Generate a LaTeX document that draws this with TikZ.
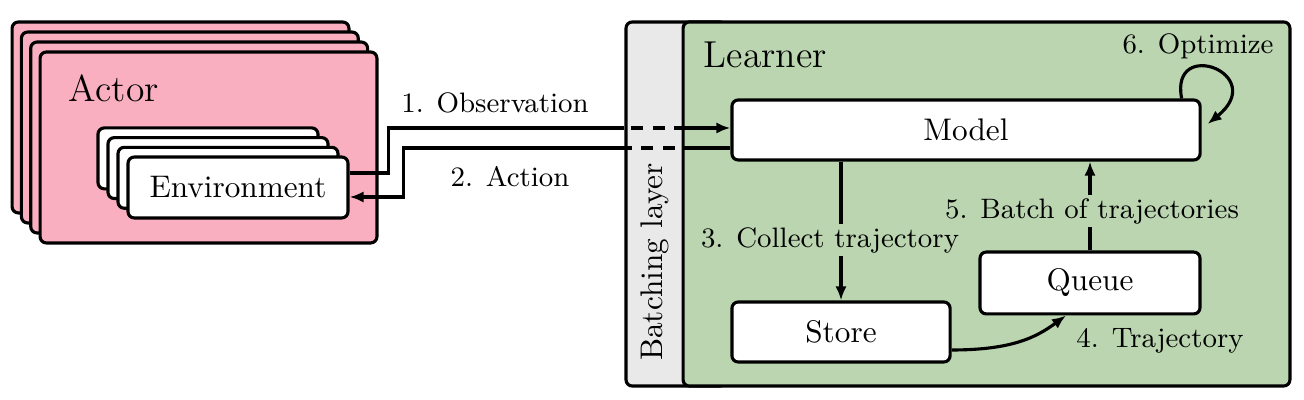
\documentclass[tikz,border=0pt]{standalone}
\usepackage{xcolor}
\usetikzlibrary{arrows.meta, calc}
\definecolor{actorpink}{RGB}{249,175,192}
\definecolor{learnergreen}{RGB}{186,213,175}
\definecolor{batchgray}{RGB}{233,233,233}

\begin{document}
\begin{tikzpicture}[x=0.32pt, y=-0.32pt, line width=1pt,
  box/.style={draw, rounded corners=2pt, fill=white, inner sep=0pt},
  arr/.style={-{Latex[length=4.5pt, width=3.6pt]}},
  dsh/.style={dash pattern=on 4pt off 3pt, dash phase=5pt},
  txt/.style={font=\small},
  lbl/.style={txt, fill=learnergreen, inner sep=1pt}]
\useasboundingbox (0,0) rectangle (1304,400);
% 执行器
\foreach \i in {3,2,1}
  \node[box, fill=actorpink, minimum width=107.8pt, minimum height=61.1pt] at (208.5-9.33*\i, 147.5-10*\i) {};
\node[box, fill=actorpink, minimum width=107.8pt, minimum height=61.1pt] (actor) at (208.5, 147.5) {};
\node[anchor=west, font=\large] (actorname) at (57, 88) {Actor};
% 环境
\foreach \i in {3,2,1}
  \node[box, minimum width=70.4pt, minimum height=19.5pt] at (238-10*\i, 187.5-9.7*\i) {};
\node[box, minimum width=70.4pt, minimum height=19.5pt] (env) at (238, 187.5) {Environment};
% 批处理层, 学习器
\node[box, fill=batchgray, minimum width=32pt, minimum height=116.5pt] (batch) at (676, 204) {};
\node[box, fill=learnergreen, minimum width=194.2pt, minimum height=116.5pt] (learner) at (986.5, 204) {};
\node[rotate=90] (batchname) at (655, 262) {Batching layer};
\node[anchor=west, font=\large] (learnername) at (692, 55) {Learner};
% 方框
\node[box, minimum width=149.8pt, minimum height=19.2pt] (model) at (966, 130) {Model};
\node[box, minimum width=69.8pt, minimum height=19.2pt] (store) at (841, 332) {Store};
\node[box, minimum width=70.4pt, minimum height=19.8pt] (queue) at (1090, 283) {Queue};
% 观测, 动作
\coordinate (obs) at ($(env.east)+(0,-14.5)$);
\coordinate (mobs) at ($(model.west)+(0,-2)$);
\coordinate (mact) at ($(model.west)+(0,18)$);
\draw (obs) -- ++(39,0) |- (batch.west |- mobs);
\draw[dsh] (batch.west |- mobs) -- (learner.west |- mobs);
\draw[arr] (learner.west |- mobs) -- (mobs);
\draw (mact) -- (learner.west |- mact);
\draw[dsh] (learner.west |- mact) -- (batch.west |- mact);
\draw[arr] (batch.west |- mact) -- ++(-221,0) |- ($(env.east)+(0,9.5)$);
% 学习器内部
\draw[arr] (model.south -| store.north) -- (store.north);
\draw[arr] (queue.north) -- (queue.north |- model.south);
\draw[arr] ($(store.east)+(0,18)$) .. controls +(60,0) and +(-30,22) .. ($(queue.south)+(-24,0)$);
\draw[arr] ($(model.north east)+(-20,0)$) .. controls +(-12,-62) and +(62,-50) .. ($(model.east)+(6,-6)$);
%Text
\node[txt] (obsname) at (495, 103) {1. Observation};
\node[txt] (actname) at (510, 177) {2. Action};
\node[lbl] (collect) at (830, 240) {3. Collect trajectory};
\node[txt] (traj) at (1160, 341) {4. Trajectory};
\node[lbl] (batchof) at (1092, 211) {5. Batch of trajectories};
\node[txt] (optim) at (1198, 46) {6. Optimize};
\end{tikzpicture}
\end{document}
